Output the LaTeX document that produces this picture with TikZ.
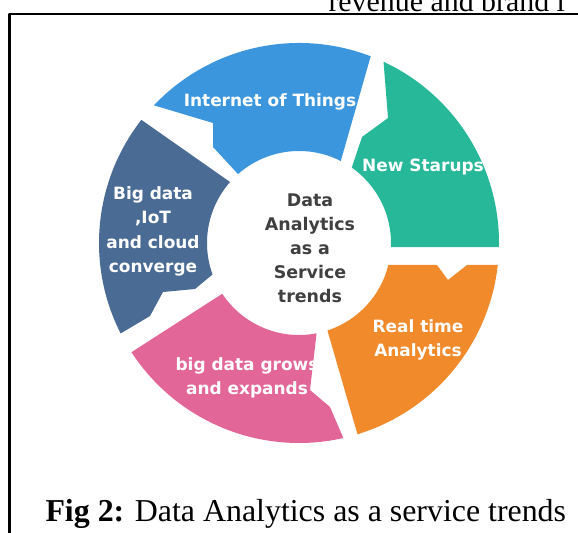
\documentclass[tikz,border=0pt]{standalone}
\usepackage{fontspec}
\setmainfont{Liberation Serif}
\newfontfamily\segfont{DejaVu Sans}

\begin{document}
\begin{tikzpicture}[x=1bp,y=1bp,line join=bevel,
  seglabel/.style={text=white,align=center,inner sep=0pt,
    font=\segfont\bfseries\fontsize{17}{24.5}\selectfont},
  hublabel/.style={text=hubcol,align=center,inner sep=0pt,
    font=\segfont\bfseries\fontsize{17.5}{24}\selectfont},
  pagetext/.style={anchor=base west,inner sep=0pt,
    font=\fontsize{30}{36}\selectfont}]
  \pgfsetlinewidth{1bp}
  \useasboundingbox (0,0) rectangle (578,533);
  \clip (0,0) rectangle (578,533);
%%
\pgfsetcolor{black}
  \definecolor{hubcol}{rgb}{0.25,0.25,0.25};
  % Text: line of body text cut by the page edge
  \node[pagetext] (bodytext) at (328,521.3) {revenue and brand l};
  % Frame
  \draw[line width=2.5bp] (9.5,-5) -- (9.5,519) -- (590,519);
%
\begin{scope}[shift={(299,290)}]
  % Segment: iot
\begin{scope}
  \definecolor{fillcol}{rgb}{0.23,0.59,0.87};
  \fill[fillcol] (69:200bp) arc[start angle=69, end angle=136.5, radius=200bp]
    -- (-86,120) -- (-86,96)
    -- (131.5:92bp) arc[start angle=131.5, end angle=63, radius=92bp] -- cycle;
  \node[seglabel] (iot) at (-29,141) {Internet of Things};
\end{scope}
  % Segment: startups
\begin{scope}
  \definecolor{fillcol}{rgb}{0.15,0.72,0.60};
  \fill[fillcol] (-1.15:200bp) arc[start angle=-1.15, end angle=65, radius=200bp]
    -- (89,125) -- (63,106)
    -- (55:92bp) arc[start angle=55, end angle=-2.5, radius=92bp] -- cycle;
  \node[seglabel] (startups) at (124,76) {New Starups};
\end{scope}
  % Segment: realtime
\begin{scope}
  \definecolor{fillcol}{rgb}{0.94,0.54,0.17};
  \fill[fillcol] (-73:200bp) arc[start angle=-73, end angle=-6.3, radius=200bp]
    -- (168,-22) -- (149,-37) -- (138,-22)
    -- (-13.8:92bp) arc[start angle=-13.8, end angle=-72, radius=92bp] -- cycle;
  \node[seglabel] (realtime) at (119,-97) {Real time\\Analytics};
\end{scope}
  % Segment: grows
\begin{scope}
  \definecolor{fillcol}{rgb}{0.89,0.40,0.60};
  \fill[fillcol] (-77.2:200bp) arc[start angle=-77.2, end angle=-146.9, radius=200bp]
    -- (-146.5:92bp) arc[start angle=-146.5, end angle=-79, radius=92bp]
    -- (11,-147) -- (31,-164) -- cycle;
  \node[seglabel] (grows) at (-52,-135) {big data grows\\and expands};
\end{scope}
  % Segment: converge
\begin{scope}
  \definecolor{fillcol}{rgb}{0.29,0.42,0.58};
  \fill[fillcol] (206.9:200bp) arc[start angle=206.9, end angle=142, radius=200bp]
    -- (138.5:92bp) arc[start angle=138.5, end angle=200, radius=92bp]
    -- (-104,-46) -- (-136,-49) -- (-149,-73) -- cycle;
  \node[seglabel] (converge) at (-146,11.5) {Big data\\,IoT\\and cloud\\converge};
\end{scope}
  % Node: hub
  \node[hublabel] (hub) at (11,-5.5) {Data\\Analytics\\as a\\Service\\trends};
\end{scope}
%
  % Caption
  \node[pagetext,font=\fontsize{32}{38}\selectfont] (caption) at (45,11)
    {\textbf{Fig 2:} Data Analytics as a service trends};
\end{tikzpicture}
\end{document}
